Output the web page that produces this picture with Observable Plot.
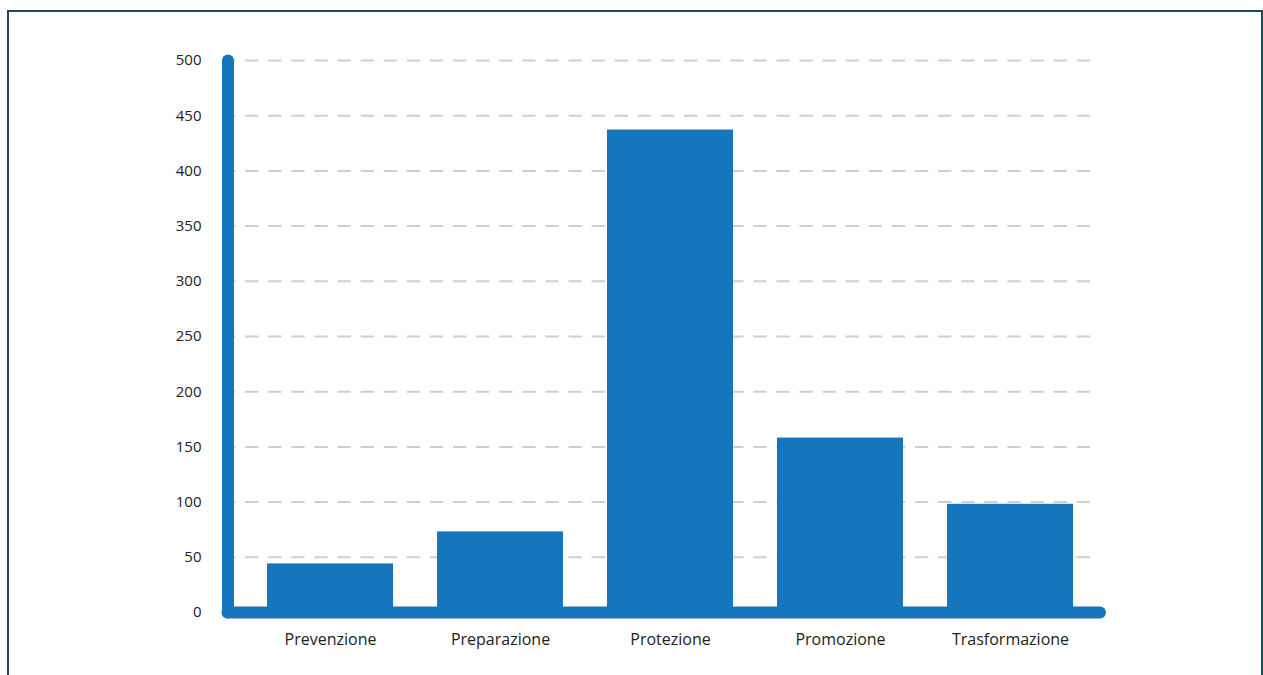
<!DOCTYPE html>
<html>
<head>
<meta charset="utf-8">
<script src="https://cdn.jsdelivr.net/npm/d3@7"></script>
<script src="https://cdn.jsdelivr.net/npm/@observablehq/plot@0.6"></script>
<style>
  html, body { margin: 0; padding: 0; background: #fff; overflow: hidden; }
  #box { position: absolute; left: 7px; top: 10px; width: 1256px; height: 720px; box-sizing: border-box; border: 2px solid #1f4a5c; border-bottom: none; }
  #chart { position: absolute; left: 0; top: 0; }
  #chart svg { font-family: "Open Sans", sans-serif; }
</style>
</head>
<body>
<div id="box"></div>
<div id="chart"></div>
<script>
const categories = ["Prevenzione", "Preparazione", "Protezione", "Promozione", "Trasformazione"];
const values = [44, 73, 437, 158, 98];
const yTicks = [0, 50, 100, 150, 200, 250, 300, 350, 400, 450, 500];

const data = categories.map((c, i) => ({category: c, value: values[i]}));
const blue = "#1576bd";

const chart = Plot.plot({
  width: 1263,
  height: 675,
  marginLeft: 222,
  marginRight: 145,
  marginTop: 60,
  marginBottom: 63,
  style: {background: "transparent", color: "#222", overflow: "visible"},
  x: {domain: categories, padding: 0.261, label: null},
  y: {domain: [0, 500], label: null},
  marks: [
    Plot.gridY(yTicks, {stroke: "#cfcfcf", strokeOpacity: 1, strokeWidth: 2, strokeDasharray: "13.3,9.8", insetRight: 28}),
    Plot.barY(data, {x: "category", y: "value", fill: blue}),
    Plot.frame({anchor: "left", stroke: blue, strokeWidth: 12, strokeLinecap: "round", insetLeft: 5.5}),
    Plot.ruleY([0], {stroke: blue, strokeWidth: 12, strokeLinecap: "round", insetLeft: 5.5, insetRight: 18}),
    Plot.axisY(yTicks, {tickSize: 0, tickPadding: 21, fontSize: 15, fill: "#222"}),
    Plot.axisX({tickSize: 0, tickPadding: 21, fontSize: 16, fill: "#222"})
  ]
});
document.getElementById("chart").appendChild(chart);
</script>
</body>
</html>
